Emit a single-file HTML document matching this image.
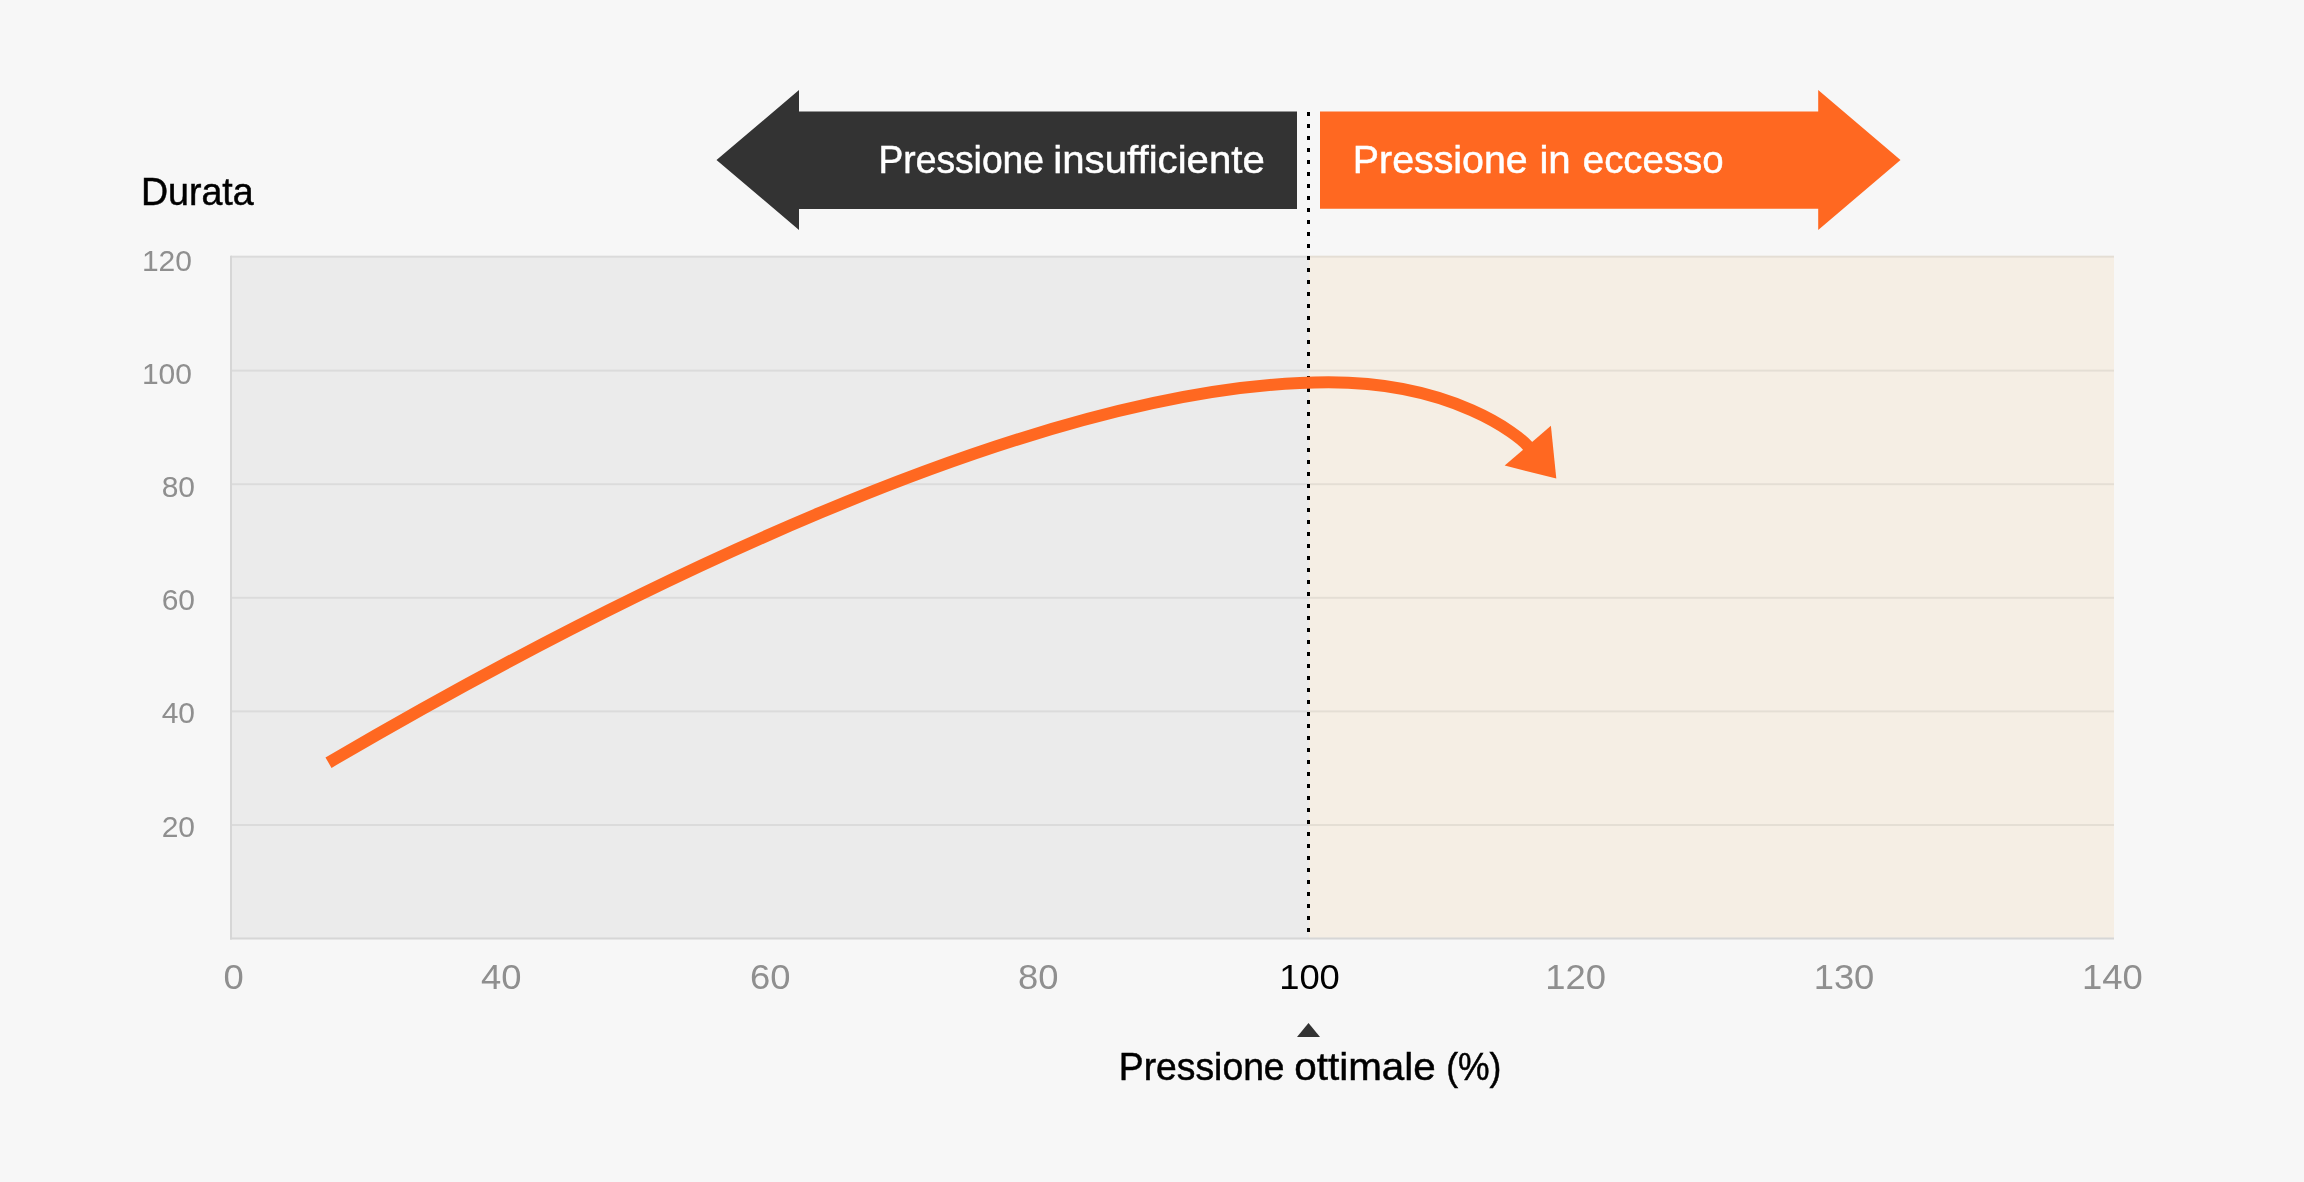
<!DOCTYPE html>
<html>
<head>
<meta charset="utf-8">
<style>
html,body{margin:0;padding:0;background:#f7f7f7;}
body{width:2304px;height:1182px;overflow:hidden;position:relative;font-family:"Liberation Sans",sans-serif;}
svg{position:absolute;left:0;top:0;}
text{filter:grayscale(0);}
</style>
</head>
<body>
<svg width="2304" height="1182" viewBox="0 0 2304 1182" font-family="Liberation Sans, sans-serif">
<rect x="231" y="255.7" width="1078" height="683.3" fill="#ebebeb"/>
<rect x="1309" y="255.7" width="805" height="683.3" fill="#f5eee4"/>
<g fill="#000" fill-opacity="0.065"><rect x="231" y="255.7" width="1883" height="2"/><rect x="231" y="369.6" width="1883" height="2"/><rect x="231" y="483.2" width="1883" height="2"/><rect x="231" y="596.8" width="1883" height="2"/><rect x="231" y="710.4" width="1883" height="2"/><rect x="231" y="824" width="1883" height="2"/></g>
<rect x="230" y="937.5" width="1884" height="2" fill="#d6d6d6"/>
<rect x="230" y="255.7" width="2" height="683.8" fill="#d6d6d6"/>
<line x1="1308.5" y1="112" x2="1308.5" y2="936" stroke="#000" stroke-width="3" stroke-dasharray="4 8"/>
<polygon points="1297,111.5 799,111.5 799,90 716.5,160 799,230 799,209 1297,209" fill="#333333"/>
<polygon points="1320,111.5 1818.2,111.5 1818.2,90 1900.5,160 1818.2,230 1818.2,208.7 1320,208.7" fill="#ff6821"/>
<path d="M328.5,762.7 C602.4,602.2 1035.2,382.3 1328.6,382.3 C1453.7,382.3 1518.8,435.7 1527.5,445.7 L1534,453.2" fill="none" stroke="#ff6821" stroke-width="12"/>
<polygon points="1504.7,465.6 1550.9,425.8 1556.3,478.6" fill="#ff6821"/>
<polygon points="1297,1037 1308.5,1023 1320,1037" fill="#333333"/>
<text x="192" y="271" font-size="30" fill="#8f8f8f" text-anchor="end">120</text>
<text x="192" y="384" font-size="30" fill="#8f8f8f" text-anchor="end">100</text>
<text x="195" y="497" font-size="30" fill="#8f8f8f" text-anchor="end">80</text>
<text x="195" y="610" font-size="30" fill="#8f8f8f" text-anchor="end">60</text>
<text x="195" y="723" font-size="30" fill="#8f8f8f" text-anchor="end">40</text>
<text x="195" y="837" font-size="30" fill="#8f8f8f" text-anchor="end">20</text>
<text transform="translate(233.6,989) scale(1.04,1)" font-size="35" fill="#8f8f8f" text-anchor="middle">0</text>
<text transform="translate(501.3,989) scale(1.04,1)" font-size="35" fill="#8f8f8f" text-anchor="middle">40</text>
<text transform="translate(770.3,989) scale(1.04,1)" font-size="35" fill="#8f8f8f" text-anchor="middle">60</text>
<text transform="translate(1038.2,989) scale(1.04,1)" font-size="35" fill="#8f8f8f" text-anchor="middle">80</text>
<text transform="translate(1309.5,989) scale(1.04,1)" font-size="35" fill="#000" text-anchor="middle">100</text>
<text transform="translate(1575.6,989) scale(1.04,1)" font-size="35" fill="#8f8f8f" text-anchor="middle">120</text>
<text transform="translate(1844,989) scale(1.04,1)" font-size="35" fill="#8f8f8f" text-anchor="middle">130</text>
<text transform="translate(2112.3,989) scale(1.04,1)" font-size="35" fill="#8f8f8f" text-anchor="middle">140</text>
<text transform="translate(140.92,205.0) scale(0.9631,1)" font-size="39" fill="#000" stroke="#000" stroke-width="0.5">Durata</text>
<text transform="translate(878.44,173.0) scale(0.9549,1)" font-size="39" fill="#fff" stroke="#fff" stroke-width="0.5">Pressione</text>
<text transform="translate(1053.32,173.0) scale(1.0309,1)" font-size="39" fill="#fff" stroke="#fff" stroke-width="0.5">insufficiente</text>
<text transform="translate(1352.87,172.7) scale(1.0083,1)" font-size="39" fill="#fff" stroke="#fff" stroke-width="0.5">Pressione</text>
<text transform="translate(1539.42,172.7) scale(1.0317,1)" font-size="39" fill="#fff" stroke="#fff" stroke-width="0.5">in</text>
<text transform="translate(1582.83,172.7) scale(0.9843,1)" font-size="39" fill="#fff" stroke="#fff" stroke-width="0.5">eccesso</text>
<text transform="translate(1118.84,1079.6) scale(0.9561,1)" font-size="39" fill="#000" stroke="#000" stroke-width="0.5">Pressione</text>
<text transform="translate(1294.34,1079.6) scale(1.0360,1)" font-size="39" fill="#000" stroke="#000" stroke-width="0.5">ottimale</text>
<text transform="translate(1446.22,1079.6) scale(0.9104,1)" font-size="39" fill="#000" stroke="#000" stroke-width="0.5">(%)</text>
</svg>
</body>
</html>
